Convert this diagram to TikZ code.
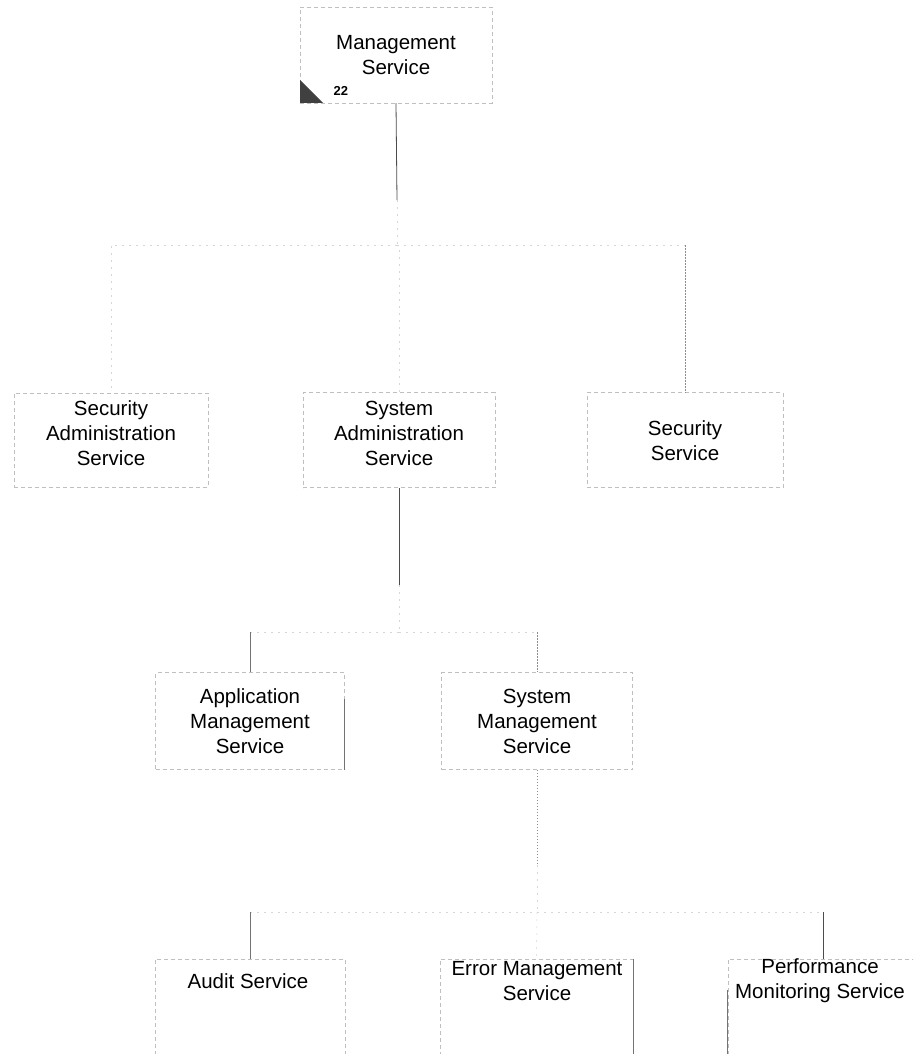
\documentclass[tikz,border=0pt]{standalone}
\usepackage{fontspec}
\setmainfont{Liberation Sans}
\begin{document}
\begin{tikzpicture}[x=1pt,y=-1pt,
  box/.style={draw=black!25, line width=.5pt, dash pattern=on 4pt off 3pt,
              rectangle, inner sep=0pt},
  lbl/.style={align=center, font=\fontsize{20.5}{25}\selectfont, text=black},
  conn/.style={draw=black!70, line width=.8pt},
  dotconn/.style={draw=black!45, line width=.7pt, dash pattern=on 1.5pt off 1.5pt},
  faint/.style={draw=black!16, line width=.5pt, dash pattern=on 2pt off 5pt},
  edge/.style={draw=black!55, line width=.6pt}]
\useasboundingbox (0,0) rectangle (913,1054);
\fill[white] (0,0) rectangle (913,1054);
\clip (0,0) rectangle (913,1054);

% level 1
\node[box, minimum width=192pt, minimum height=96pt] (ms) at (396,55) {};
\node[lbl] (ms-t) at (396,55) {Management\\Service};
\fill[black!75] (300,80) -- (300,103) -- (323,103) -- cycle;
\node[font=\fontsize{13}{15}\selectfont\bfseries, anchor=west] (ms-n) at (330,91) {22};

% level 2
\node[box, minimum width=194pt, minimum height=94pt] (sas) at (111,440) {};
\node[lbl] (sas-t) at (111,433) {Security\\Administration\\Service};
\node[box, minimum width=192pt, minimum height=95pt] (sya) at (399,440) {};
\node[lbl] (sya-t) at (399,433) {System\\Administration\\Service};
\node[box, minimum width=196pt, minimum height=95pt] (ss) at (685,440) {};
\node[lbl] (ss-t) at (685,441) {Security\\Service};

% level 3
\node[box, minimum width=189pt, minimum height=97pt] (ams) at (250,721) {};
\node[lbl] (ams-t) at (250,721) {Application\\Management\\Service};
\node[box, minimum width=191pt, minimum height=97pt] (sms) at (537,721) {};
\node[lbl] (sms-t) at (537,721) {System\\Management\\Service};

% level 4
\node[box, minimum width=190pt, minimum height=95pt] (aud) at (250,1006.5) {};
\node[lbl] (aud-t) at (248,981) {Audit Service};
\node[box, minimum width=193pt, minimum height=95pt] (err) at (536.5,1006.5) {};
\node[lbl] (err-t) at (537,981) {Error Management\\Service};
\node[box, minimum width=190pt, minimum height=95pt] (pms) at (823,1006.5) {};
\node[lbl] (pms-t) at (820,981) {Performance\\Monitoring Service};

% junction points of the tree
\coordinate (k1) at (397,200);
\coordinate (j1) at (397,245);
\coordinate (j1r) at (685,245);
\coordinate (k2) at (399,585);
\coordinate (j2) at (399,632);
\coordinate (j2l) at (250,632);
\coordinate (j2r) at (537,632);
\coordinate (k3) at (537,865);
\coordinate (j3) at (537,912);
\coordinate (j3l) at (250,912);
\coordinate (j3r) at (823,912);

% connectors, level 1 to 2
\draw[conn] (ms.south) -- (k1);
\draw[faint] (k1) -- (j1);
\draw[faint] (j1) -| (sas.north);
\draw[faint] (j1) -| (sya.north);
\draw[faint] (j1) -- (j1r);
\draw[dotconn] (j1r) -- (ss.north);

% connectors, level 2 to 3
\draw[conn] (sya.south) -- (k2);
\draw[faint] (k2) -- (j2);
\draw[faint] (j2) -- (j2l);
\draw[faint] (j2) -- (j2r);
\draw[edge] (j2l) -- (ams.north);
\draw[dotconn] (j2r) -- (sms.north);

% connectors, level 3 to 4
\draw[dotconn] (sms.south) -- (k3);
\draw[faint] (k3) -- (j3);
\draw[faint] (j3l) -- (j3r);
\draw[edge] (j3l) -- (aud.north);
\draw[faint] (j3) -- (err.north);
\draw[conn] (j3r) -- (pms.north);

% box sides that print darker
\draw[edge] (err.north east) -- (err.south east);
\draw[edge] ([yshift=-31pt]pms.north west) -- (pms.south west);
\draw[edge] ([yshift=-27pt]ams.north east) -- (ams.south east);
\end{tikzpicture}
\end{document}
